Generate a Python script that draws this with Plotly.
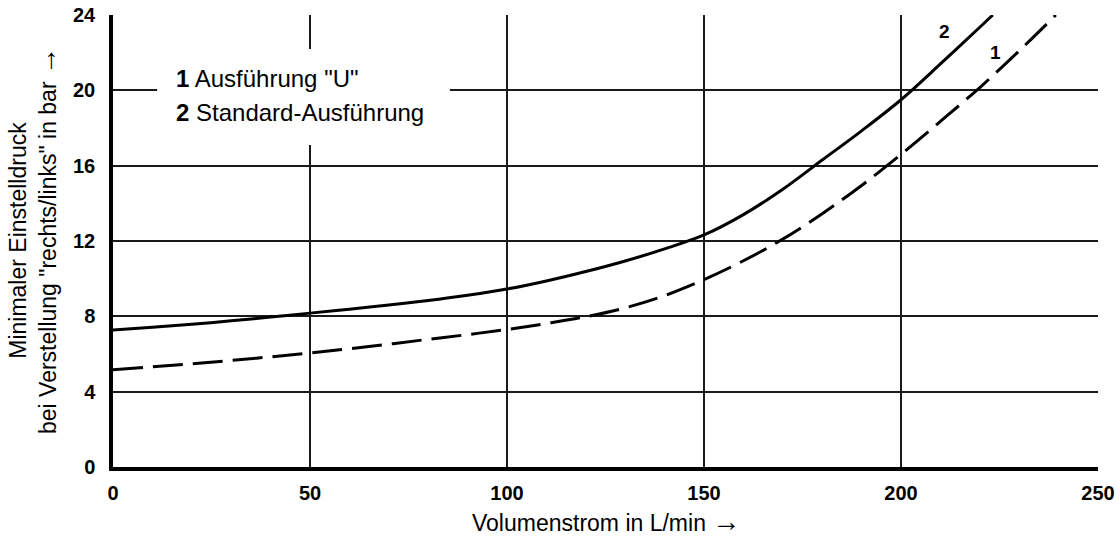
import plotly.graph_objects as go

# Data
flow_std = [0, 10, 20, 30, 40, 50, 60, 70, 80, 90, 100, 110, 120, 130, 140, 150,
            160, 170, 180, 190, 200, 210, 220, 223.3]
press_std = [7.28, 7.42, 7.58, 7.76, 7.96, 8.17, 8.38, 8.60, 8.84, 9.12, 9.45, 9.88,
             10.38, 10.94, 11.58, 12.32, 13.4, 14.75, 16.3, 17.85, 19.5, 21.4, 23.35, 24.0]

flow_u = [0, 10, 20, 30, 40, 50, 60, 70, 80, 90, 100, 110, 120, 130, 140, 150,
          160, 170, 180, 190, 200, 210, 220, 230, 239.3]
press_u = [5.17, 5.32, 5.48, 5.66, 5.85, 6.05, 6.28, 6.52, 6.78, 7.03, 7.3, 7.62,
           7.98, 8.45, 9.1, 9.95, 10.95, 12.1, 13.45, 14.95, 16.6, 18.35, 20.15, 22.1, 24.0]

x_ticks = [0, 50, 100, 150, 200, 250]
y_ticks = [0, 4, 8, 12, 16, 20, 24]

legend_lines = [("1", 'Ausführung "U"'), ("2", "Standard-Ausführung")]
curve_labels = [("2", 211.0, 23.1), ("1", 224.1, 22.0)]

FONT = "Arial, Liberation Sans, sans-serif"
ARROW = "<span style='font-size:28px'>→</span>"

fig = go.Figure()
fig.add_trace(go.Scatter(x=flow_u, y=press_u, mode="lines",
                         line=dict(color="black", width=3, dash="30px,10px", shape="spline"),
                         showlegend=False, hoverinfo="skip"))
fig.add_trace(go.Scatter(x=flow_std, y=press_std, mode="lines",
                         line=dict(color="black", width=3, shape="spline"),
                         showlegend=False, hoverinfo="skip"))

# white box behind the legend text (covers gridlines)
fig.add_shape(type="rect", xref="x", yref="y", x0=11.2, x1=85.5, y0=17.1, y1=22.2,
              fillcolor="white", line=dict(width=0), layer="between")

for i, (num, txt) in enumerate(legend_lines):
    fig.add_annotation(xref="x", yref="y", x=15.6, y=[20.63, 18.83][i],
                       text=f"<b>{num}</b> {txt}", showarrow=False,
                       xanchor="left", yanchor="middle",
                       font=dict(family=FONT, size=24, color="black"))

for num, cx, cy in curve_labels:
    fig.add_annotation(xref="x", yref="y", x=cx, y=cy, text=f"<b>{num}</b>",
                       showarrow=False, xanchor="center", yanchor="middle",
                       font=dict(family=FONT, size=19, color="black"))

fig.add_annotation(xref="paper", yref="paper", x=0.5, y=0, yshift=-54,
                   text="Volumenstrom in L/min " + ARROW, showarrow=False,
                   xanchor="center", yanchor="middle",
                   font=dict(family=FONT, size=23, color="black"))

fig.add_annotation(xref="paper", yref="paper", x=0, y=0.5, xshift=-80,
                   text="Minimaler Einstelldruck<br>bei Verstellung \"rechts/links\" in bar " + ARROW,
                   showarrow=False, textangle=-90, xanchor="center", yanchor="middle",
                   font=dict(family=FONT, size=23, color="black"))

fig.update_layout(
    template="none",
    width=1120, height=542,
    margin=dict(l=113, r=22, t=15, b=75, autoexpand=False),
    paper_bgcolor="white", plot_bgcolor="white",
    font=dict(family=FONT, color="black"),
    xaxis=dict(range=[0, 250], tickvals=x_ticks, ticktext=[str(v) for v in x_ticks],
               showgrid=True, gridcolor="#1a1a1a", gridwidth=1.5, zeroline=False,
               showline=True, linecolor="black", linewidth=3.5, automargin=False,
               ticks="", ticklabelstandoff=5,
               tickfont=dict(family=FONT, size=20, color="black", weight="bold")),
    yaxis=dict(range=[0, 24], tickvals=y_ticks, ticktext=[str(v) for v in y_ticks],
               showgrid=True, gridcolor="#1a1a1a", gridwidth=1.5, zeroline=False,
               showline=True, linecolor="black", linewidth=3.5, automargin=False,
               ticks="", ticklabelstandoff=10,
               tickfont=dict(family=FONT, size=20, color="black", weight="bold")),
)

fig.write_html("out.html", config={"displayModeBar": False},
               post_script="document.body.style.margin='0';document.body.style.padding='0';")
